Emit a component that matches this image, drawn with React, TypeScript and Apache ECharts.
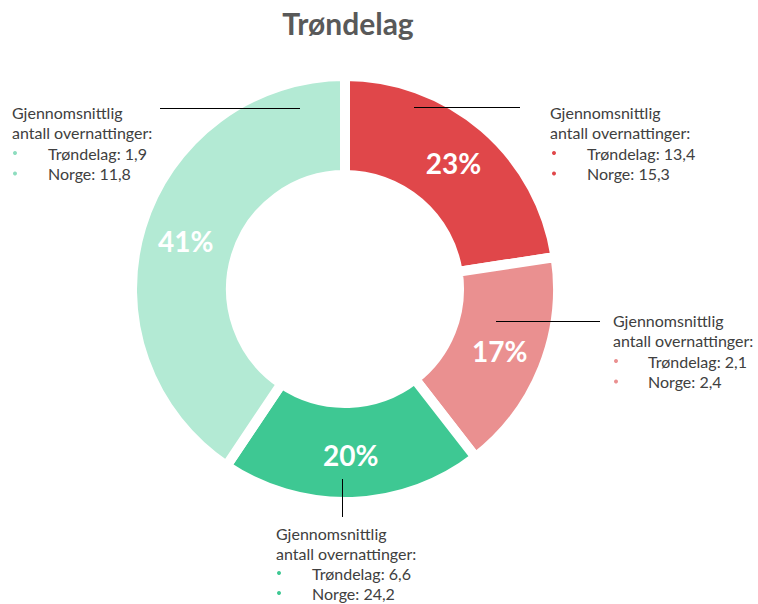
import React, { useEffect, useRef } from "react";
import * as echarts from "echarts";

// ---- data ----
const title = "Trøndelag";
const categories = ["Segment 1", "Segment 2", "Segment 3", "Segment 4"];
const shares = [22.6, 16.9, 19.9, 40.6];
const trondelagNights = ["13,4", "2,1", "6,6", "1,9"];
const norgeNights = ["15,3", "2,4", "24,2", "11,8"];
const headingLines = ["Gjennomsnittlig", "antall overnattinger:"];
const itemLabels = ["Trøndelag", "Norge"];

// ---- styles / layout ----
const sliceColors = ["#E0474A", "#EA9090", "#3EC893", "#B3EAD4"];
const bulletColors = ["#E0474A", "#EA9090", "#3EC893", "#8EDDBF"];
const FONT = "Lato, 'Open Sans', sans-serif";
const TEXT_COLOR = "#404040";
const blocks = [
  { x: 550, y: 112, lh: 20.5, itemX: 587, bulletX: 554, line: [414, 107.5, 520, 107.5] },
  { x: 613, y: 320, lh: 20.5, itemX: 648, bulletX: 616, line: [496, 321.5, 600, 321.5] },
  { x: 276, y: 533, lh: 20, itemX: 312, bulletX: 279, line: [342.5, 479, 342.5, 517] },
  { x: 12, y: 112, lh: 20.5, itemX: 48, bulletX: 15, line: [160, 108.5, 300, 108.5] },
];

export default function App() {
  const ref = useRef<HTMLDivElement>(null);
  useEffect(() => {
    document.body.style.margin = "0";
    const chart = echarts.init(ref.current!, null, { renderer: "svg" });
    const graphics: any[] = [];
    graphics.push({
      type: "text",
      z: 100,
      style: {
        text: title,
        x: 348,
        y: 23,
        font: `bold 30px ${FONT}`,
        fill: "#595959",
        textAlign: "center",
        textVerticalAlign: "middle",
        align: "center",
        verticalAlign: "middle",
      },
    });
    blocks.forEach((b, i) => {
      graphics.push({
        type: "line",
        z: 100,
        shape: { x1: b.line[0], y1: b.line[1], x2: b.line[2], y2: b.line[3] },
        style: { stroke: "#000000", lineWidth: 1 },
      });
      const lines = [
        { text: headingLines[0], x: b.x },
        { text: headingLines[1], x: b.x },
        { text: `${itemLabels[0]}: ${trondelagNights[i]}`, x: b.itemX, bullet: true },
        { text: `${itemLabels[1]}: ${norgeNights[i]}`, x: b.itemX, bullet: true },
      ];
      lines.forEach((l, k) => {
        const y = b.y + k * b.lh;
        graphics.push({
          type: "text",
          z: 100,
          style: {
            text: l.text,
            x: l.x,
            y,
            font: `16px ${FONT}`,
            fill: TEXT_COLOR,
            textVerticalAlign: "middle",
            verticalAlign: "middle",
          },
        });
        if (l.bullet) {
          graphics.push({
            type: "circle",
            z: 100,
            shape: { cx: b.bulletX, cy: y, r: 2 },
            style: { fill: bulletColors[i] },
          });
        }
      });
    });

    chart.setOption({
      animation: false,
      series: [
        {
          type: "pie",
          z: 2,
          center: [345, 289],
          radius: [114, 213],
          startAngle: 90,
          clockwise: true,
          silent: true,
          avoidLabelOverlap: false,
          itemStyle: { borderColor: "#ffffff", borderWidth: 10 },
          label: {
            show: true,
            position: "inside",
            color: "#ffffff",
            fontFamily: FONT,
            fontWeight: "bold",
            fontSize: 28,
            formatter: (p: any) => `${Math.round(p.percent)}%`,
          },
          labelLine: { show: false },
          data: categories.map((name, i) => ({
            name,
            value: shares[i],
            itemStyle: { color: sliceColors[i] },
          })),
        },
      ],
      graphic: graphics,
    });
    return () => chart.dispose();
  }, []);
  return <div ref={ref} style={{ width: 758, height: 604 }} />;
}
